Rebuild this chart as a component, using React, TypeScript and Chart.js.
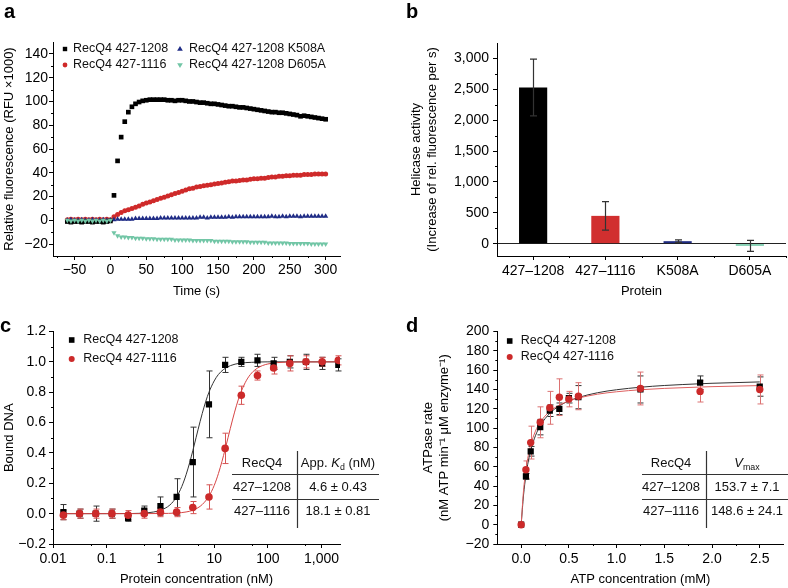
import React, { useEffect, useRef } from "react";
import { Chart, registerables } from "chart.js";

Chart.register(...registerables);

const FONT = "'Liberation Sans', Arial, Helvetica, sans-serif";
Chart.defaults.font.family = FONT;
Chart.defaults.color = "#000";

// ---------------- Panel a data ----------------
const aTime = [-60, -55, -50, -45, -40, -35, -30, -25, -20, -15, -10, -5, 0,
  5, 10, 15, 20, 25, 30, 35, 40, 45, 50, 55, 60, 65, 70, 75, 80, 85, 90, 95, 100,
  105, 110, 115, 120, 125, 130, 135, 140, 145, 150, 155, 160, 165, 170, 175, 180, 185, 190, 195, 200,
  205, 210, 215, 220, 225, 230, 235, 240, 245, 250, 255, 260, 265, 270, 275, 280, 285, 290, 295, 300];
const aBlack = [-1, -1.5, -1, -1, -1.5, -1, -1, -1.5, -1, -1, -1.5, -1, -0.5,
  21, 50, 70, 83, 91, 95.5, 98, 99.5, 100.5, 101,
  101.5, 101.5, 101.5, 101.5, 101.5, 101, 101, 100.5, 101, 101,
  100.5, 100, 100, 99.5, 99, 99, 98.5, 98, 98, 97.5,
  97, 96.5, 96, 96, 95.5, 95, 95, 94.5, 94, 93.5,
  93, 92.5, 92, 91.5, 91, 91, 90.5, 90.5, 90, 89.5,
  89, 88.5, 87.5, 88, 87.5, 87, 86.5, 86, 85.5, 85];
const aRed = [0.5, 1, 0.5, 1, 0.5, 1, 0.5, 1, 0.5, 1, 0.5, 1, 0.5,
  3, 5, 6.5, 8, 9, 10, 11, 12, 13.5, 14.5,
  15.5, 16.5, 17.5, 18.5, 19.5, 20.5, 21.5, 22.5, 23.5, 24.5,
  25.5, 26.5, 27, 28, 28.5, 29, 29.5, 30, 30.5, 31,
  31.5, 32, 32.5, 33, 33, 33.5, 34, 34, 34.5, 35,
  35, 35.5, 35.5, 36, 36.5, 36.5, 37, 37, 37.5, 37.5,
  38, 38, 38, 38.5, 38.5, 38.5, 39, 39, 39, 39];
const aBlue = [0, 0.5, 0, 0, 0.5, 0, 0, 0.5, 0, 0, 0.5, 0, 0,
  0.5, 1, 1, 1, 1, 1, 1.5, 1.5, 1.5, 1.5,
  1.5, 1.5, 1.5, 2, 2, 2, 2, 2, 2, 2,
  2, 2, 2, 2, 2.5, 2.5, 2, 2.5, 2.5, 2.5,
  2.5, 2.5, 3, 2.5, 3, 3, 3, 3, 3, 3,
  3, 3, 3, 3, 3.5, 3, 3, 3.5, 3, 3.5,
  3.5, 3.5, 3, 3.5, 3.5, 3.5, 3.5, 3.5, 3.5, 3.5];
const aGreen = [0, -0.5, 0, -0.5, 0, -0.5, 0, -0.5, 0, -0.5, 0, -0.5, 0,
  -10.5, -13, -14, -14, -14.5, -14.5, -15, -15, -15, -15.5,
  -15.5, -15.5, -16, -16, -16, -16, -16, -16.5, -16.5, -16.5,
  -16.5, -16.5, -17, -17, -17, -17, -17, -17, -17.5, -17.5,
  -17.5, -17.5, -17.5, -18, -18, -18, -18, -18, -18.5, -18.5,
  -18.5, -18.5, -18.5, -19, -19, -19, -19, -19, -19, -19.5,
  -19.5, -19.5, -19.5, -19.5, -19.5, -20, -20, -20, -20, -20];
const aLabels = ["RecQ4 427-1208", "RecQ4 427-1116", "RecQ4 427-1208 K508A", "RecQ4 427-1208 D605A"];
const aXTicks = [-50, 0, 50, 100, 150, 200, 250, 300];
const aXLabels = ["\u221250", "0", "50", "100", "150", "200", "250", "300"];
const aYTicks = [-20, 0, 20, 40, 60, 80, 100, 120, 140];
const aYLabels = ["\u221220", "0", "20", "40", "60", "80", "100", "120", "140"];

// ---------------- Panel b data ----------------
const bCategories = ["427\u20131208", "427\u20131116", "K508A", "D605A"];
const bValues = [2530, 450, 40, -35];
const bErrors = [460, 230, 20, 89];
const bYTicks = [0, 500, 1000, 1500, 2000, 2500, 3000];
const bYLabels = ["0", "500", "1,000", "1,500", "2,000", "2,500", "3,000"];

// ---------------- Panel c data ----------------
const cConc = [0.015625, 0.03125, 0.0625, 0.125, 0.25, 0.5, 1, 2, 4, 8, 16, 32, 64, 128, 256, 512, 1024, 2048];
const cBlack = [0.01, 0.0, 0.0, 0.0, -0.03, 0.02, 0.05, 0.11, 0.34, 0.72, 0.98, 1.0, 1.01, 0.99, 1.0, 1.0, 0.99, 0.98];
const cBlackErr = [0.05, 0.03, 0.05, 0.03, 0.02, 0.03, 0.06, 0.12, 0.23, 0.22, 0.05, 0.03, 0.04, 0.04, 0.04, 0.05, 0.04, 0.04];
const cRed = [-0.01, 0.0, 0.0, 0.0, -0.01, 0.0, 0.01, 0.01, 0.04, 0.11, 0.43, 0.78, 0.91, 0.96, 0.99, 1.0, 1.0, 1.01];
const cRedErr = [0.03, 0.03, 0.03, 0.03, 0.03, 0.03, 0.03, 0.03, 0.04, 0.08, 0.1, 0.06, 0.03, 0.04, 0.05, 0.04, 0.03, 0.03];
const cFitBlackX = [0.015625, 0.1, 0.3, 0.5, 0.75, 1, 1.5, 2, 2.5, 3, 3.5, 4, 4.6, 5, 6, 7, 8, 10, 12, 15, 20, 30, 50, 100, 2048];
const cFitBlackY = [0, 0, 0.001, 0.004, 0.011, 0.022, 0.057, 0.111, 0.179, 0.256, 0.336, 0.414, 0.5, 0.552, 0.66, 0.741, 0.8, 0.874, 0.917, 0.95, 0.975, 0.991, 0.997, 1.0, 1.0];
const cFitRedX = [0.015625, 0.1, 0.5, 1, 2, 3, 4, 5, 6, 8, 10, 12, 14, 16, 18.1, 20, 24, 28, 32, 40, 50, 64, 80, 100, 150, 300, 2048];
const cFitRedY = [0, 0, 0, 0.001, 0.004, 0.011, 0.022, 0.039, 0.06, 0.115, 0.185, 0.264, 0.345, 0.424, 0.5, 0.562, 0.669, 0.749, 0.806, 0.879, 0.927, 0.959, 0.976, 0.986, 0.995, 0.999, 1.0];
const cLabels = ["RecQ4 427-1208", "RecQ4 427-1116"];
const cXTicks = [0.01, 0.1, 1, 10, 100, 1000];
const cXLabels = ["0.01", "0.1", "1", "10", "100", "1,000"];
const cYTicks = [-0.2, 0, 0.2, 0.4, 0.6, 0.8, 1.0, 1.2];
const cYLabels = ["\u22120.2", "0.0", "0.2", "0.4", "0.6", "0.8", "1.0", "1.2"];
const cTableRows = [["427\u20131208", "4.6 \u00b1 0.43"], ["427\u20131116", "18.1 \u00b1 0.81"]];

// ---------------- Panel d data ----------------
const dConc = [0, 0.05, 0.1, 0.2, 0.3, 0.4, 0.5, 0.6, 1.25, 1.875, 2.5];
const dBlack = [0, 50, 76, 101, 118, 120, 131, 132, 140, 147, 143];
const dBlackErr = [0, 3, 5, 8, 6, 6, 5, 12, 14, 7, 10];
const dRed = [0, 57, 85, 106, 121, 132, 130, 133, 141, 138, 140];
const dRedErr = [0, 9, 17, 16, 17, 19, 8, 14, 17, 11, 15];
const dFitX = [0, 0.025, 0.05, 0.075, 0.1, 0.15, 0.2, 0.3, 0.4, 0.5, 0.6, 0.8, 1.0, 1.25, 1.5, 1.875, 2.0, 2.5];
const dFitBlack = [0, 30.7, 51.2, 65.9, 76.9, 92.2, 102.5, 115.3, 123.0, 128.1, 131.7, 136.6, 139.7, 142.3, 144.1, 145.9, 146.4, 147.8];
const dFitRed = [0, 35.4, 57.2, 71.9, 82.6, 96.9, 106.1, 117.3, 123.8, 128.1, 131.1, 135.1, 137.6, 139.7, 141.1, 142.5, 142.9, 144.0];
const dLabels = ["RecQ4 427-1208", "RecQ4 427-1116"];
const dXTicks = [0, 0.5, 1, 1.5, 2, 2.5];
const dXLabels = ["0.0", "0.5", "1.0", "1.5", "2.0", "2.5"];
const dYTicks = [-20, 0, 20, 40, 60, 80, 100, 120, 140, 160, 180, 200];
const dYLabels = ["\u221220", "0", "20", "40", "60", "80", "100", "120", "140", "160", "180", "200"];
const dTableRows = [["427\u20131208", "153.7 \u00b1 7.1"], ["427\u20131116", "148.6 \u00b1 24.1"]];

// ---------------- colours ----------------
const BLACK = "#000000";
const RED = "#cf2a2a";
const BLUE = "#1f2c86";
const GREEN = "#72c6a6";

const TICK_SIZE = 14;
const TITLE_SIZE = 13;

const pts = (xs: number[], ys: number[]) => xs.map((x, i) => ({ x, y: ys[i] }));

// ---------------- drawing helpers ----------------
type MStyle = "rect" | "circle" | "tri" | "triDown";
function drawMarker(ctx: CanvasRenderingContext2D, s: MStyle, x: number, y: number, r: number, color: string) {
  ctx.save();
  ctx.fillStyle = color;
  ctx.beginPath();
  if (s === "rect") {
    ctx.rect(x - r, y - r, 2 * r, 2 * r);
  } else if (s === "circle") {
    ctx.arc(x, y, r, 0, Math.PI * 2);
  } else if (s === "tri") {
    ctx.moveTo(x, y - r);
    ctx.lineTo(x - r * 0.95, y + r * 0.6);
    ctx.lineTo(x + r * 0.95, y + r * 0.6);
    ctx.closePath();
  } else {
    ctx.moveTo(x, y + r);
    ctx.lineTo(x - r * 0.95, y - r * 0.6);
    ctx.lineTo(x + r * 0.95, y - r * 0.6);
    ctx.closePath();
  }
  ctx.fill();
  ctx.restore();
}

type Run = { t: string; it?: boolean; sub?: boolean };
function runFont(r: Run, size: number) {
  return `${r.it ? "italic " : ""}${r.sub ? size * 0.68 : size}px ${FONT}`;
}
function drawRich(ctx: CanvasRenderingContext2D, runs: Run[], cx: number, cy: number, size: number) {
  let w = 0;
  runs.forEach((r) => { ctx.font = runFont(r, size); w += ctx.measureText(r.t).width; });
  let x = cx - w / 2;
  ctx.textAlign = "left";
  ctx.textBaseline = "middle";
  runs.forEach((r) => {
    ctx.font = runFont(r, size);
    ctx.fillText(r.t, x, cy + (r.sub ? size * 0.32 : 0));
    x += ctx.measureText(r.t).width;
  });
}

type ErrSpec = { ds: number; errs: number[]; color: string; cap: number; width: number };
type LegendItem = { label: string; style: MStyle; color: string; r: number; x: number; y: number; tx: number };
type TableSpec = {
  header: Run[][];
  rows: string[][];
  colX: number[];
  rowY: number[];
  hLines: { y: number; x1: number; x2: number }[];
  vLine: { x: number; y1: number; y2: number };
  size: number;
};
type Decor = {
  letter: { text: string; x: number; y: number };
  minorX?: number[];
  minorY?: number[];
  minorLen: number;
  errBefore?: ErrSpec[];
  errAfter?: ErrSpec[];
  legend?: { items: LegendItem[]; size: number };
  table?: TableSpec;
};

function drawErrors(chart: any, specs?: ErrSpec[]) {
  if (!specs) return;
  const ctx: CanvasRenderingContext2D = chart.ctx;
  const ys = chart.scales.y;
  specs.forEach((sp) => {
    const meta = chart.getDatasetMeta(sp.ds);
    const data = chart.data.datasets[sp.ds].data;
    ctx.save();
    ctx.strokeStyle = sp.color;
    ctx.lineWidth = sp.width;
    meta.data.forEach((el: any, j: number) => {
      const e = sp.errs[j];
      if (!e) return;
      const d = data[j];
      const v = typeof d === "number" ? d : d.y;
      const x = Math.round(el.x) + 0.5;
      const t = ys.getPixelForValue(v + e);
      const b = ys.getPixelForValue(v - e);
      ctx.beginPath();
      ctx.moveTo(x, t);
      ctx.lineTo(x, b);
      ctx.moveTo(x - sp.cap / 2, t);
      ctx.lineTo(x + sp.cap / 2, t);
      ctx.moveTo(x - sp.cap / 2, b);
      ctx.lineTo(x + sp.cap / 2, b);
      ctx.stroke();
    });
    ctx.restore();
  });
}

function makeDecor(d: Decor) {
  return {
    id: "decor",
    beforeDatasetsDraw(chart: any) { drawErrors(chart, d.errBefore); },
    afterDatasetsDraw(chart: any) { drawErrors(chart, d.errAfter); },
    afterDraw(chart: any) {
      const ctx: CanvasRenderingContext2D = chart.ctx;
      const area = chart.chartArea;
      ctx.save();
      // minor ticks
      ctx.strokeStyle = "#000";
      ctx.lineWidth = 1;
      ctx.beginPath();
      (d.minorX || []).forEach((v) => {
        const px = Math.round(chart.scales.x.getPixelForValue(v)) + 0.5;
        ctx.moveTo(px, area.bottom);
        ctx.lineTo(px, area.bottom + d.minorLen);
      });
      (d.minorY || []).forEach((v) => {
        const py = Math.round(chart.scales.y.getPixelForValue(v)) + 0.5;
        ctx.moveTo(area.left - d.minorLen, py);
        ctx.lineTo(area.left, py);
      });
      ctx.stroke();
      // panel letter
      ctx.fillStyle = "#000";
      ctx.font = `bold 20px ${FONT}`;
      ctx.textAlign = "left";
      ctx.textBaseline = "alphabetic";
      ctx.fillText(d.letter.text, d.letter.x, d.letter.y);
      // legend
      if (d.legend) {
        const lg = d.legend;
        lg.items.forEach((it) => {
          drawMarker(ctx, it.style, it.x, it.y, it.r, it.color);
          ctx.fillStyle = "#111";
          ctx.font = `${lg.size}px ${FONT}`;
          ctx.textAlign = "left";
          ctx.textBaseline = "middle";
          ctx.fillText(it.label, it.tx, it.y);
        });
      }
      // table
      if (d.table) {
        const tb = d.table;
        ctx.fillStyle = "#111";
        tb.header.forEach((runs, ci) => drawRich(ctx, runs, tb.colX[ci], tb.rowY[0], tb.size));
        tb.rows.forEach((row, ri) => {
          row.forEach((txt, ci) => drawRich(ctx, [{ t: txt }], tb.colX[ci], tb.rowY[ri + 1], tb.size));
        });
        ctx.strokeStyle = "#333";
        ctx.lineWidth = 1.2;
        ctx.beginPath();
        tb.hLines.forEach((l) => { ctx.moveTo(l.x1, l.y); ctx.lineTo(l.x2, l.y); });
        ctx.moveTo(tb.vLine.x, tb.vLine.y1);
        ctx.lineTo(tb.vLine.x, tb.vLine.y2);
        ctx.stroke();
      }
      ctx.restore();
    },
  };
}

// ---------------- axis helpers ----------------
function axis(o: {
  type: string; pos: "left" | "bottom"; min: number; max: number;
  ticks?: number[]; labels?: string[]; size: number; title: string | string[];
  titlePad: number; tickPad: number; extra?: any;
}) {
  const isY = o.pos === "left";
  return {
    type: o.type,
    position: o.pos,
    min: o.min,
    max: o.max,
    afterBuildTicks: o.ticks ? (s: any) => { s.ticks = (o.ticks as number[]).map((v) => ({ value: v })); } : undefined,
    afterFit: (s: any) => { if (isY) s.width = o.size; else s.height = o.size; },
    ticks: {
      autoSkip: false,
      maxRotation: 0,
      minRotation: 0,
      font: { size: TICK_SIZE },
      color: "#000",
      padding: o.tickPad,
      ...(o.labels ? { callback: (_v: any, i: number) => (o.labels as string[])[i] } : {}),
    },
    grid: { drawOnChartArea: false, drawTicks: true, tickLength: 4, tickColor: "#000", tickWidth: 1 },
    border: { display: true, color: "#000", width: 1 },
    title: {
      display: true,
      text: o.title,
      font: { size: TITLE_SIZE, lineHeight: 1.3 },
      color: "#000",
      padding: isY ? { top: o.titlePad, bottom: 0 } : { top: 0, bottom: o.titlePad },
    },
    ...(o.extra || {}),
  };
}

const baseOpts = {
  responsive: false,
  maintainAspectRatio: false,
  animation: false,
  events: [],
};
const noPlugins = { legend: { display: false }, tooltip: { enabled: false }, title: { display: false } };

// ---------------- configs ----------------
function configA(): any {
  const sets = [
    { label: aLabels[3], data: pts(aTime, aGreen), pointStyle: "triangle", pointRotation: 180, pointRadius: 3, backgroundColor: GREEN },
    { label: aLabels[0], data: pts(aTime, aBlack), pointStyle: "rect", pointRadius: 3.3, backgroundColor: BLACK },
    { label: aLabels[2], data: pts(aTime, aBlue), pointStyle: "triangle", pointRadius: 3, backgroundColor: BLUE },
    { label: aLabels[1], data: pts(aTime, aRed), pointStyle: "circle", pointRadius: 2.5, backgroundColor: RED },
  ].map((s) => ({ ...s, showLine: false, pointBorderWidth: 0, borderWidth: 0, pointBackgroundColor: s.backgroundColor }));
  return {
    type: "scatter",
    data: { datasets: sets },
    options: {
      ...baseOpts,
      layout: { padding: { left: 0, top: 42, right: 448, bottom: 288 } },
      plugins: noPlugins,
      scales: {
        x: axis({ type: "linear", pos: "bottom", min: -80, max: 320, ticks: aXTicks, labels: aXLabels, size: 44, title: "Time (s)", titlePad: 0.5, tickPad: 2 }),
        y: axis({ type: "linear", pos: "left", min: -30, max: 150, ticks: aYTicks, labels: aYLabels, size: 53, title: "Relative fluorescence (RFU \u00d71000)", titlePad: 0.5, tickPad: 1 }),
      },
    },
    plugins: [makeDecor({
      letter: { text: "a", x: 4, y: 18 },
      minorX: [-75, -25, 25, 75, 125, 175, 225, 275],
      minorY: [-10, 10, 30, 50, 70, 90, 110, 130],
      minorLen: 2,
      legend: {
        size: 12.5,
        items: [
          { label: aLabels[0], style: "rect", color: BLACK, r: 2.2, x: 65, y: 49, tx: 73 },
          { label: aLabels[2], style: "tri", color: BLUE, r: 3, x: 180, y: 49, tx: 189 },
          { label: aLabels[1], style: "circle", color: RED, r: 2.4, x: 65, y: 65, tx: 73 },
          { label: aLabels[3], style: "triDown", color: GREEN, r: 3, x: 180, y: 65, tx: 189 },
        ],
      },
    })],
  };
}

function configB(): any {
  return {
    type: "bar",
    data: {
      labels: bCategories,
      datasets: [{
        data: bValues,
        backgroundColor: [BLACK, "#d12f2f", "#1e2a80", "#74caa9"],
        borderWidth: 0,
        barPercentage: 0.39,
        categoryPercentage: 1,
      }],
    },
    options: {
      ...baseOpts,
      layout: { padding: { left: 394, top: 43, right: 2, bottom: 288 } },
      plugins: noPlugins,
      scales: {
        x: axis({
          type: "category", pos: "bottom", min: undefined as any, max: undefined as any, size: 44, title: "Protein", titlePad: 0, tickPad: 2.5,
          extra: { offset: true, grid: { offset: false, drawOnChartArea: false, drawTicks: true, tickLength: 4, tickColor: "#000", tickWidth: 1 } },
        }),
        y: axis({
          type: "linear", pos: "left", min: -200, max: 3250, ticks: bYTicks, labels: bYLabels, size: 103,
          title: ["Helicase activity", "(Increase of rel. fluorescence per s)"], titlePad: 13.5, tickPad: 4,
          extra: {
            grid: {
              drawOnChartArea: true, drawTicks: true, tickLength: 4, tickColor: "#000", tickWidth: 1,
              color: (c: any) => (c.tick && c.tick.value === 0 ? "#222" : "rgba(0,0,0,0)"),
              lineWidth: 1,
            },
          },
        }),
      },
    },
    plugins: [makeDecor({
      letter: { text: "b", x: 406, y: 18 },
      minorX: [0.5, 1.5, 2.5, 3.5],
      minorY: [250, 750, 1250, 1750, 2250, 2750],
      minorLen: 2,
      errAfter: [{ ds: 0, errs: bErrors, color: "#333", cap: 7, width: 1.2 }],
    })],
  };
}

function configC(): any {
  const CRED = "#cc2a2a";
  return {
    type: "scatter",
    data: {
      datasets: [
        { label: cLabels[1], data: pts(cConc, cRed), pointStyle: "circle", pointRadius: 3.8, pointBorderWidth: 0, pointBackgroundColor: CRED, backgroundColor: CRED, showLine: false },
        { label: cLabels[0], data: pts(cConc, cBlack), pointStyle: "rect", pointRadius: 4.4, pointBorderWidth: 0, pointBackgroundColor: BLACK, backgroundColor: BLACK, showLine: false },
        { label: "fit 427-1116", data: pts(cFitRedX, cFitRedY), showLine: true, pointRadius: 0, borderColor: "#d64444", borderWidth: 1, cubicInterpolationMode: "monotone" },
        { label: "fit 427-1208", data: pts(cFitBlackX, cFitBlackY), showLine: true, pointRadius: 0, borderColor: "#333", borderWidth: 1, cubicInterpolationMode: "monotone" },
      ],
    },
    options: {
      ...baseOpts,
      layout: { padding: { left: 0, top: 331.5, right: 448, bottom: 0 } },
      plugins: noPlugins,
      scales: {
        x: axis({ type: "logarithmic", pos: "bottom", min: 0.01, max: 2200, ticks: cXTicks, labels: cXLabels, size: 44, title: "Protein concentration (nM)", titlePad: 0, tickPad: 2.5 }),
        y: axis({ type: "linear", pos: "left", min: -0.2, max: 1.2, ticks: cYTicks, labels: cYLabels, size: 53, title: "Bound DNA", titlePad: 0.5, tickPad: 3 }),
      },
    },
    plugins: [makeDecor({
      letter: { text: "c", x: 0, y: 332 },
      minorX: [0.05, 0.5, 5, 50, 500],
      minorY: [-0.1, 0.1, 0.3, 0.5, 0.7, 0.9, 1.1],
      minorLen: 2,
      errBefore: [
        { ds: 1, errs: cBlackErr, color: "#333", cap: 6, width: 1 },
        { ds: 0, errs: cRedErr, color: "#d65454", cap: 6, width: 1 },
      ],
      legend: {
        size: 12.5,
        items: [
          { label: cLabels[0], style: "rect", color: BLACK, r: 2.8, x: 71.7, y: 340, tx: 83.3 },
          { label: cLabels[1], style: "circle", color: CRED, r: 3, x: 71.7, y: 359, tx: 83.3 },
        ],
      },
      table: {
        size: 13,
        header: [[{ t: "RecQ4" }], [{ t: "App. " }, { t: "K", it: true }, { t: "d", sub: true }, { t: " (nM)" }]],
        rows: cTableRows,
        colX: [262, 338],
        rowY: [463, 487, 511],
        hLines: [{ y: 474.5, x1: 232, x2: 379 }, { y: 499.5, x1: 232, x2: 379 }],
        vLine: { x: 297.5, y1: 451, y2: 528 },
      },
    })],
  };
}

function configD(): any {
  const DRED = "#cc2a2a";
  return {
    type: "scatter",
    data: {
      datasets: [
        { label: dLabels[1], data: pts(dConc, dRed), pointStyle: "circle", pointRadius: 3.7, pointBorderWidth: 0, pointBackgroundColor: DRED, backgroundColor: DRED, showLine: false },
        { label: dLabels[0], data: pts(dConc, dBlack), pointStyle: "rect", pointRadius: 4.4, pointBorderWidth: 0, pointBackgroundColor: BLACK, backgroundColor: BLACK, showLine: false },
        { label: "fit 427-1116", data: pts(dFitX, dFitRed), showLine: true, pointRadius: 0, borderColor: "#de5f5f", borderWidth: 1, cubicInterpolationMode: "monotone" },
        { label: "fit 427-1208", data: pts(dFitX, dFitBlack), showLine: true, pointRadius: 0, borderColor: "#333", borderWidth: 1, cubicInterpolationMode: "monotone" },
      ],
    },
    options: {
      ...baseOpts,
      layout: { padding: { left: 394, top: 331.5, right: 2, bottom: 0 } },
      plugins: noPlugins,
      scales: {
        x: axis({ type: "linear", pos: "bottom", min: -0.25, max: 2.75, ticks: dXTicks, labels: dXLabels, size: 44, title: "ATP concentration (mM)", titlePad: 0, tickPad: 2.5 }),
        y: axis({
          type: "linear", pos: "left", min: -20, max: 200, ticks: dYTicks, labels: dYLabels, size: 103.3,
          title: ["ATPase rate", "(nM ATP min\u207b\u00b9 \u03bcM enzyme\u207b\u00b9)"], titlePad: 25.5, tickPad: 4,
        }),
      },
    },
    plugins: [makeDecor({
      letter: { text: "d", x: 406, y: 332 },
      minorX: [0.25, 0.75, 1.25, 1.75, 2.25],
      minorY: [-10, 10, 30, 50, 70, 90, 110, 130, 150, 170, 190],
      minorLen: 2,
      errBefore: [
        { ds: 1, errs: dBlackErr, color: "#333", cap: 6, width: 1 },
        { ds: 0, errs: dRedErr, color: "#dc7272", cap: 6, width: 1 },
      ],
      legend: {
        size: 12.5,
        items: [
          { label: dLabels[0], style: "rect", color: BLACK, r: 2.8, x: 509.7, y: 341, tx: 520.7 },
          { label: dLabels[1], style: "circle", color: DRED, r: 3, x: 509.7, y: 357, tx: 520.7 },
        ],
      },
      table: {
        size: 13,
        header: [[{ t: "RecQ4" }], [{ t: "V", it: true }, { t: "max", sub: true }]],
        rows: dTableRows,
        colX: [671, 747],
        rowY: [463, 487, 511],
        hLines: [{ y: 474.5, x1: 642, x2: 788 }, { y: 499.5, x1: 642, x2: 788 }],
        vLine: { x: 706.5, y1: 451, y2: 528 },
      },
    })],
  };
}

function ChartCanvas({ make }: { make: () => any }) {
  const ref = useRef<HTMLCanvasElement>(null);
  useEffect(() => {
    const chart = new Chart(ref.current as HTMLCanvasElement, make());
    return () => chart.destroy();
  }, []);
  return (
    <canvas
      ref={ref}
      width={788}
      height={588}
      style={{ position: "absolute", left: 0, top: 0, width: 788, height: 588, display: "block" }}
    />
  );
}

export default function App() {
  return (
    <div style={{ position: "absolute", left: 0, top: 0, width: 788, height: 588, background: "#fff", overflow: "hidden" }}>
      <ChartCanvas make={configA} />
      <ChartCanvas make={configB} />
      <ChartCanvas make={configC} />
      <ChartCanvas make={configD} />
    </div>
  );
}
